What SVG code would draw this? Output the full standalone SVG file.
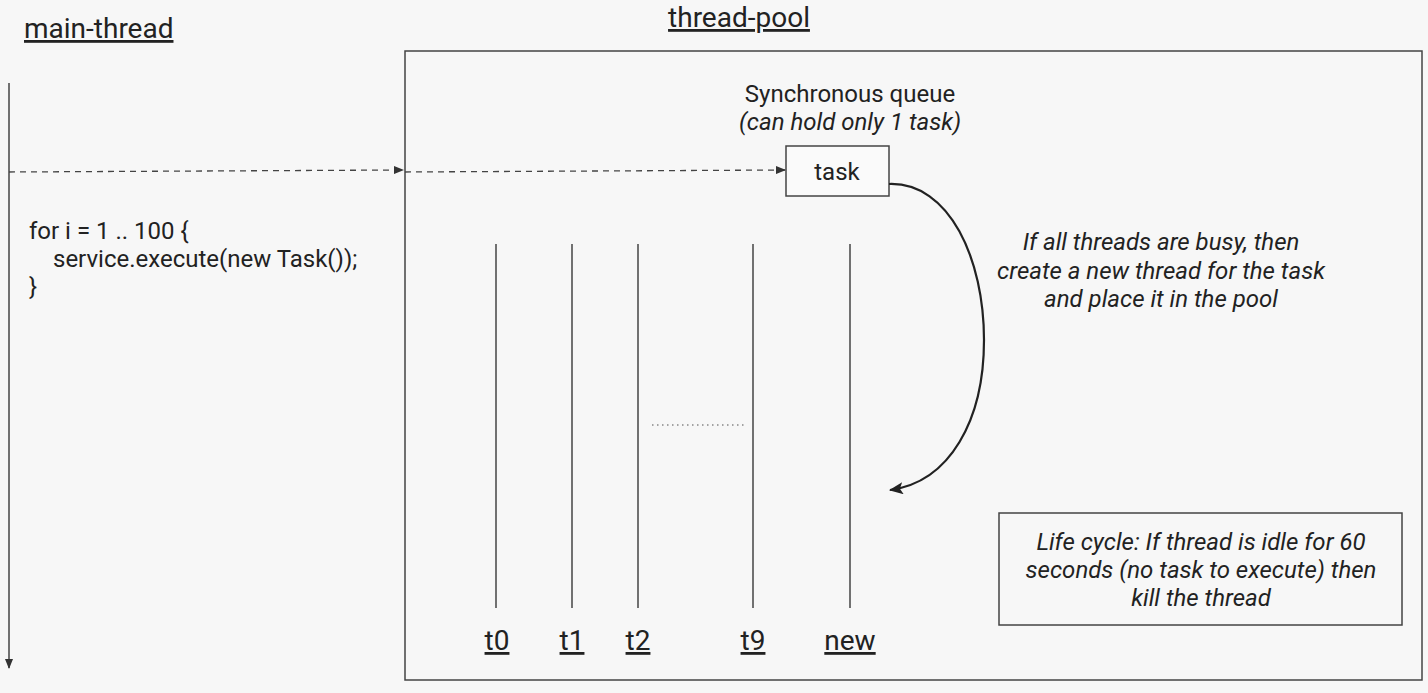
<svg xmlns="http://www.w3.org/2000/svg" width="1428" height="693" viewBox="0 0 1428 693">
<style>
text{font-family:Roboto,"Liberation Sans",sans-serif;fill:#222;font-size:24px}
.t{font-size:28px;text-decoration:underline}
.i{font-style:italic}
.c{text-anchor:middle}
.ln{stroke:#444;stroke-width:1.5;fill:none}
.dash{stroke:#444;stroke-width:1.3;stroke-dasharray:6 5;fill:none}
.box{fill:#fafafa;stroke:#444;stroke-width:1.5}
</style>
<defs>
<marker id="ah" markerWidth="10" markerHeight="8" refX="9" refY="4" orient="auto" markerUnits="userSpaceOnUse">
<path d="M0,0 L10,4 L0,8 Z" fill="#333"/>
</marker>
<marker id="ah2" markerWidth="14" markerHeight="12" refX="13" refY="6" orient="auto" markerUnits="userSpaceOnUse">
<path d="M0,0 L14,6 L0,12 L3,6 Z" fill="#222"/>
</marker>
</defs>
<rect width="1428" height="693" fill="#f7f7f7"/>
<g id="main-thread">
<text class="t" x="24" y="38">main-thread</text>
<text x="29" y="239">for i = 1 .. 100 {</text>
<text x="53" y="267">service.execute(new Task());</text>
<text x="29" y="295">}</text>
</g>
<g id="thread-pool">
<text class="t c" x="739" y="27">thread-pool</text>
<rect x="405" y="51" width="1017" height="629" fill="none" stroke="#444" stroke-width="1.5"/>
</g>
<g id="queue">
<text class="c" x="850" y="102">Synchronous queue</text>
<text class="c i" x="850" y="130">(can hold only 1 task)</text>
</g>
<g id="task">
<rect class="box" x="786" y="146" width="103" height="50"/>
<text class="c" x="837" y="180">task</text>
</g>
<g id="threads">
<line class="ln" x1="496" y1="244" x2="496" y2="608"/>
<line class="ln" x1="572" y1="244" x2="572" y2="608"/>
<line class="ln" x1="638" y1="244" x2="638" y2="608"/>
<line class="ln" x1="753" y1="244" x2="753" y2="608"/>
<line class="ln" x1="850" y1="244" x2="850" y2="608"/>
<line x1="652" y1="425" x2="744" y2="425" stroke="#888" stroke-width="1.5" stroke-dasharray="1.5 3.5"/>
<text class="t c" x="497" y="650">t0</text>
<text class="t c" x="572" y="650">t1</text>
<text class="t c" x="638" y="650">t2</text>
<text class="t c" x="753" y="650">t9</text>
<text class="t c" x="850" y="650">new</text>
</g>
<g id="note">
<text class="c i" x="1161" y="250">If all threads are busy, then</text>
<text class="c i" x="1161" y="279">create a new thread for the task</text>
<text class="c i" x="1161" y="307">and place it in the pool</text>
</g>
<g id="lifecycle">
<rect x="999" y="513" width="403" height="112" fill="none" stroke="#444" stroke-width="1.5"/>
<text class="c i" x="1201" y="550">Life cycle: If thread is idle for 60</text>
<text class="c i" x="1201" y="578">seconds (no task to execute) then</text>
<text class="c i" x="1201" y="606">kill the thread</text>
</g>
<g id="connectors">
<line class="ln" x1="9" y1="83" x2="9" y2="668" marker-end="url(#ah)"/>
<line class="dash" x1="9" y1="172" x2="403" y2="170" marker-end="url(#ah)"/>
<line class="dash" x1="405" y1="172" x2="785" y2="170" marker-end="url(#ah)"/>
<path d="M889,184 C950,182 984,260 984,340 C984,420 950,482 890,490" fill="none" stroke="#222" stroke-width="2.2" marker-end="url(#ah2)"/>
</g>
</svg>
